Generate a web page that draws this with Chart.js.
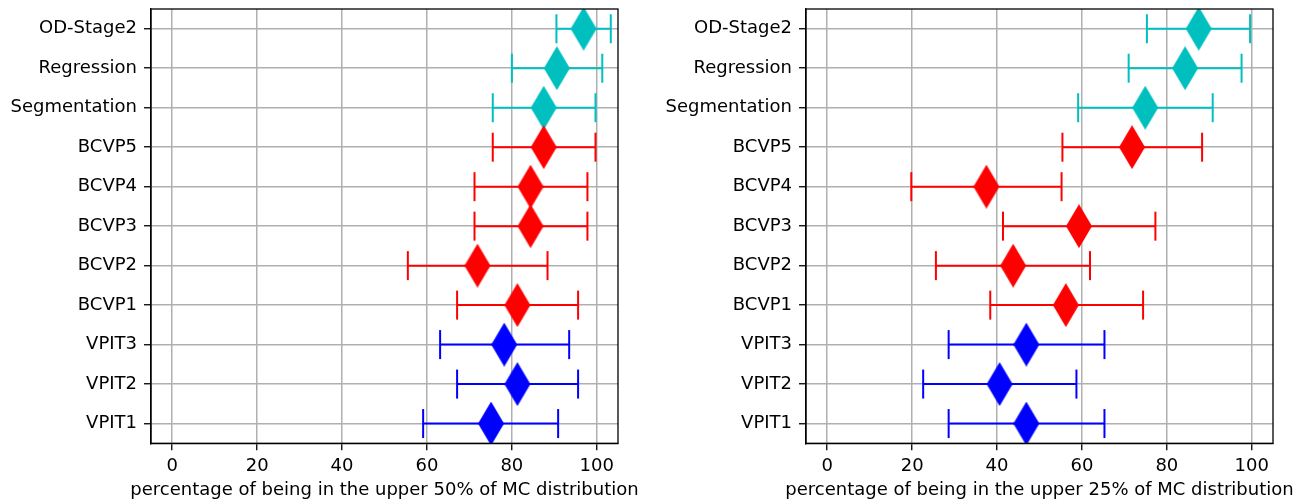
<!DOCTYPE html>
<html><head><meta charset="utf-8">
<script src="https://cdn.jsdelivr.net/npm/chart.js@4.4.0/dist/chart.umd.min.js"></script>
<style>
html,body{margin:0;padding:0;background:#fff;overflow:hidden}
#c1{position:absolute;left:0;top:0}
#c2{position:absolute;left:656px;top:0}
</style></head><body>
<canvas id="c1" width="656" height="501"></canvas>
<canvas id="c2" width="656" height="501"></canvas>
<script>
// ---- data ----
const categories = ['OD-Stage2','Regression','Segmentation','BCVP5','BCVP4','BCVP3','BCVP2','BCVP1','VPIT3','VPIT2','VPIT1'];
const groups = ['od','od','od','bcvp','bcvp','bcvp','bcvp','bcvp','vpit','vpit','vpit'];

const center50 = [96.9, 90.6, 87.5, 87.5, 84.4, 84.4, 71.9, 81.3, 78.2, 81.3, 75.1];
const low50    = [90.5, 80.0, 75.5, 75.5, 71.2, 71.2, 55.5, 67.1, 63.1, 67.1, 59.1];
const high50   = [103.3, 101.3, 99.7, 99.7, 97.8, 97.8, 88.4, 95.6, 93.5, 95.6, 90.9];

const center25 = [87.5, 84.3, 74.9, 71.8, 37.5, 59.3, 43.8, 56.2, 46.9, 40.6, 46.9];
const low25    = [75.3, 71.0, 59.1, 55.4, 19.8, 41.4, 25.6, 38.4, 28.6, 22.6, 28.6];
const high25   = [99.6, 97.6, 90.8, 88.3, 55.2, 77.3, 61.9, 74.4, 65.3, 58.7, 65.3];

const xTicks = [0, 20, 40, 60, 80, 100];
const xTitle50 = 'percentage of being in the upper 50% of MC distribution';
const xTitle25 = 'percentage of being in the upper 25% of MC distribution';

// ---- styles ----
const COLORS = {od:'#00bfbf', bcvp:'#ff0000', vpit:'#0000ff'};
const FAMILY = '"DejaVu Sans"';
const FONT = {family:FAMILY, size:18};

function diamondImg(color){
  const c = document.createElement('canvas');
  c.width = 26; c.height = 44;
  const g = c.getContext('2d');
  g.fillStyle = color;
  g.beginPath();
  g.moveTo(13,0); g.lineTo(26,22); g.lineTo(13,44); g.lineTo(0,22);
  g.closePath(); g.fill();
  return c;
}
const diamonds = {od:diamondImg(COLORS.od), bcvp:diamondImg(COLORS.bcvp), vpit:diamondImg(COLORS.vpit)};

// frame on all four sides + x-axis title centred under the plot area (not width-limited)
const frame = {
  id:'frame',
  afterDraw(chart, args, opts){
    const {ctx, chartArea:a} = chart;
    ctx.save();
    ctx.strokeStyle = '#000';
    ctx.lineWidth = 1.3;
    ctx.strokeRect(a.left, a.top, a.right - a.left, a.bottom - a.top);
    ctx.fillStyle = '#000';
    ctx.font = '18px ' + FAMILY;
    ctx.textAlign = 'center';
    ctx.textBaseline = 'alphabetic';
    ctx.fillText(opts.text, (a.left + a.right) / 2, 495);
    ctx.restore();
  }
};

function makeChart(id, centers, lows, highs, title, yWidth, padRight){
  const datasets = [];
  categories.forEach((cat, i) => {
    const col = COLORS[groups[i]];
    datasets.push({
      showLine:true,
      data:[{x:lows[i], y:cat}, {x:highs[i], y:cat}],
      borderColor:col, borderWidth:2,
      pointStyle:'line', pointRotation:90, pointRadius:14.5,
      pointBorderColor:col, pointBorderWidth:2,
      order:2, clip:false
    });
  });
  datasets.push({
    data: categories.map((c, i) => ({x:centers[i], y:c})),
    pointStyle: ctx => diamonds[groups[ctx.dataIndex]],
    pointRadius: 13,
    order: 1, clip:0
  });
  return new Chart(document.getElementById(id), {
    type:'scatter',
    data:{datasets},
    options:{
      responsive:false, animation:false, events:[],
      layout:{autoPadding:false, padding:{top:9, right:padRight, left:0, bottom:0}},
      plugins:{legend:{display:false}, tooltip:{enabled:false}, frame:{text:title}},
      scales:{
        x:{
          type:'linear', min:-5, max:105,
          afterBuildTicks: s => { s.ticks = xTicks.map(v => ({value:v})); },
          afterFit: s => { s.height = 57.7; s.paddingLeft = 0; s.paddingRight = 0; },
          grid:{color:'#b0b0b0', lineWidth:1.5, tickLength:7, tickColor:'#000', tickWidth:1.3},
          border:{color:'#000', width:1.3},
          ticks:{color:'#000', font:FONT, padding:5, maxRotation:0, autoSkip:false},
          title:{display:false}
        },
        y:{
          type:'category', labels:categories, offset:true,
          afterFit: s => { s.width = yWidth; s.paddingTop = 0; s.paddingBottom = 0; },
          grid:{offset:false, color:'#b0b0b0', lineWidth:1.5, tickLength:7, tickColor:'#000', tickWidth:1.3},
          border:{color:'#000', width:1.3},
          ticks:{color:'#000', font:{family:FAMILY, size:18, lineHeight:0.1}, padding:7, autoSkip:false}
        }
      }
    },
    plugins:[frame]
  });
}

makeChart('c1', center50, low50, high50, xTitle50, 151, 38);
makeChart('c2', center25, low25, high25, xTitle25, 150, 39);
</script>
</body></html>
